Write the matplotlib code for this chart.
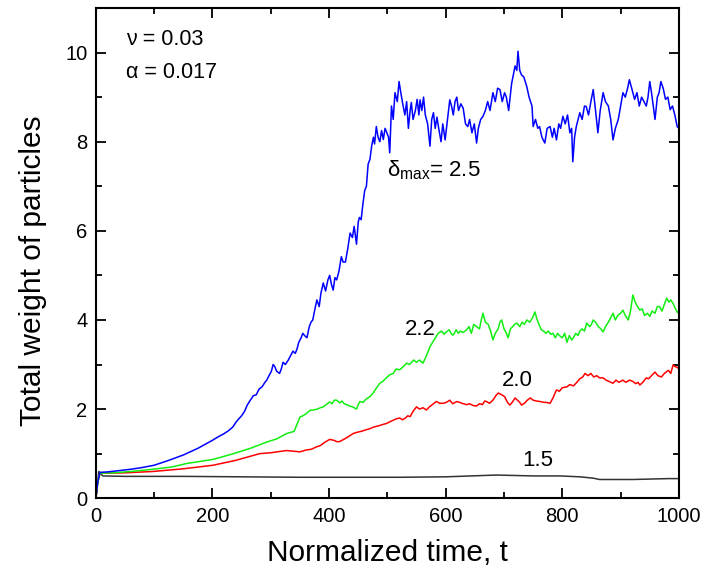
import matplotlib
matplotlib.use('Agg')
import matplotlib.pyplot as plt
from matplotlib.ticker import MultipleLocator

plt.rcParams['font.family'] = ['Liberation Sans', 'DejaVu Sans']
plt.rcParams['mathtext.fontset'] = 'custom'
plt.rcParams['mathtext.rm'] = 'Liberation Sans'
plt.rcParams['mathtext.it'] = 'Liberation Sans'

# delta_max = 2.5 (blue)
t_25 = [0, 3, 7, 20, 40, 60, 80, 100, 125, 150, 175,
        200, 210, 220, 228, 235, 240, 245, 250, 255, 260, 265, 270, 275,
        280, 285, 290, 293, 297, 301, 304, 307, 310, 315, 318, 321, 325,
        330, 334, 338, 342, 345, 348, 352, 355, 358, 362, 366, 369, 372,
        375, 379, 383, 386, 390, 394, 398, 401, 404, 407, 410, 413, 417,
        421, 424, 428, 432, 436, 440, 443, 447, 450, 452, 455, 458, 461,
        464, 467, 470, 473, 476, 478, 481, 484, 487, 490, 493, 496, 499,
        502, 504, 507, 510, 513, 517, 520, 523, 527, 530, 533, 536, 539,
        541, 544, 548, 551, 554, 556, 559, 562, 565, 569, 573, 576, 579,
        582, 585, 588, 592, 595, 599, 603, 607, 610, 613, 616, 619, 622,
        626, 630, 634, 638, 641, 645, 649, 653, 656, 660, 664, 668, 672,
        676, 681, 685, 689, 693, 697, 701, 704, 708, 713, 716, 719, 722,
        724, 727, 730, 734, 739, 743, 748, 750, 754, 758, 761, 765, 770,
        774, 779, 783, 786, 790, 794, 797, 801, 805, 809, 813, 816, 818,
        821, 824, 827, 830, 834, 838, 841, 845, 849, 853, 857, 861, 865,
        870, 874, 879, 883, 887, 891, 896, 900, 904, 908, 912, 915, 919,
        924, 928, 932, 936, 940, 944, 947, 950, 953, 956, 959, 963, 966,
        969, 973, 977, 981, 985, 989, 993, 997, 1000]
w_25 = [0, 0.35, 0.58, 0.59, 0.62, 0.65, 0.69, 0.74, 0.85, 0.97, 1.12,
        1.30, 1.38, 1.45, 1.52, 1.6, 1.7, 1.78, 1.85, 1.95, 2.1, 2.2, 2.3,
        2.32, 2.45, 2.5, 2.6, 2.65, 2.75, 2.85, 3.0, 2.95, 2.85, 2.8, 2.9,
        3.05, 3.0, 3.1, 3.2, 3.3, 3.25, 3.35, 3.5, 3.6, 3.7, 3.65, 3.6,
        3.85, 3.95, 4.0, 4.2, 4.45, 4.3, 4.6, 4.83, 4.65, 4.9, 5.0, 4.8,
        4.67, 4.95, 4.9, 5.1, 5.42, 5.3, 5.3, 5.6, 5.95, 5.85, 6.1, 5.7,
        6.2, 6.3, 6.25, 6.6, 6.9, 7.0, 7.5, 7.6, 7.9, 8.1, 7.95, 8.34, 8.1,
        8.0, 8.25, 8.05, 8.3, 8.2, 8.1, 7.75, 8.8, 8.5, 9.1, 8.9, 9.35,
        9.1, 8.8, 8.6, 8.9, 8.3, 8.7, 8.88, 8.5, 8.7, 8.95, 8.6, 8.94, 8.7,
        9.0, 8.6, 8.4, 7.9, 8.5, 8.65, 8.3, 8.55, 8.3, 8.0, 8.4, 8.04, 8.5,
        8.94, 8.8, 8.6, 8.9, 9.0, 8.7, 8.85, 8.75, 8.4, 8.34, 8.5, 8.2,
        8.4, 7.97, 8.3, 8.5, 8.57, 8.7, 8.9, 8.7, 9.1, 8.9, 9.2, 9.17, 8.9,
        9.1, 9.0, 8.7, 9.3, 9.5, 9.7, 9.6, 10.03, 9.6, 9.5, 9.45, 9.24,
        9.0, 8.8, 8.34, 8.5, 8.3, 8.34, 8.1, 7.97, 8.3, 8.34, 8.1, 8.3,
        8.04, 8.4, 8.3, 8.57, 8.4, 8.6, 8.2, 8.3, 7.55, 8.1, 8.34, 8.5,
        8.65, 8.5, 8.8, 8.79, 8.6, 8.9, 9.17, 8.7, 8.2, 8.7, 9.1, 8.9,
        8.8, 8.5, 8.04, 8.3, 8.5, 8.8, 9.1, 9.0, 9.2, 9.39, 9.2, 8.95,
        9.1, 8.8, 9.0, 8.9, 8.8, 9.0, 9.35, 9.1, 8.8, 8.5, 9.0, 9.1, 9.35,
        9.2, 8.95, 9.0, 8.72, 8.8, 8.6, 8.34, 8.3]

# delta_max = 2.2 (green)
t_22 = [0, 3, 7, 30, 60, 98, 130, 156, 201, 236, 265, 293, 310, 327, 340,
        350, 355, 361, 367, 373, 380, 385, 390, 395, 401, 405, 409, 413,
        418, 422, 426, 430, 435, 440, 444, 447, 450, 453, 458, 463, 470,
        475, 480, 487, 492, 498, 504, 510, 515, 521, 527, 533, 538, 545,
        550, 555, 561, 567, 573, 580, 587, 593, 597, 601, 606, 610, 613,
        618, 622, 625, 630, 636, 640, 644, 648, 653, 658, 661, 664, 668,
        673, 677, 681, 685, 690, 693, 696, 700, 704, 707, 711, 715, 718,
        722, 727, 731, 735, 739, 744, 749, 753, 757, 760, 764, 768, 772,
        776, 780, 784, 788, 792, 795, 800, 804, 808, 812, 816, 819, 823,
        827, 830, 834, 838, 842, 847, 850, 853, 857, 862, 866, 870, 874,
        879, 883, 887, 891, 895, 900, 904, 908, 913, 917, 921, 925, 929,
        933, 937, 941, 946, 950, 954, 959, 963, 967, 971, 975, 979, 983,
        986, 990, 994, 997, 1000]
w_22 = [0, 0.35, 0.56, 0.57, 0.6, 0.65, 0.7, 0.78, 0.87, 1.0, 1.12, 1.26,
        1.33, 1.45, 1.5, 1.82, 1.85, 1.9, 1.97, 1.98, 2.0, 2.03, 2.05,
        2.1, 2.16, 2.12, 2.2, 2.2, 2.14, 2.18, 2.12, 2.1, 2.07, 2.05, 2.02,
        2.0, 2.1, 2.17, 2.15, 2.22, 2.28, 2.35, 2.45, 2.58, 2.62, 2.7,
        2.77, 2.8, 2.9, 2.88, 2.95, 3.03, 3.0, 3.1, 3.05, 3.1, 3.03, 3.2,
        3.4, 3.55, 3.7, 3.75, 3.68, 3.73, 3.78, 3.68, 3.66, 3.78, 3.7,
        3.75, 3.72, 3.78, 3.85, 3.7, 3.9, 3.85, 3.8, 4.0, 4.15, 3.95, 3.9,
        3.75, 3.55, 3.7, 3.8, 3.95, 4.0, 3.8, 3.7, 3.6, 3.8, 3.85, 3.9,
        3.93, 3.85, 3.95, 3.9, 4.0, 3.95, 4.05, 4.18, 4.0, 3.9, 3.78,
        3.75, 3.7, 3.75, 3.68, 3.7, 3.6, 3.7, 3.65, 3.6, 3.7, 3.5, 3.65,
        3.55, 3.6, 3.7, 3.65, 3.75, 3.8, 3.75, 3.93, 3.85, 3.9, 4.0, 3.95,
        3.85, 3.8, 3.73, 3.85, 3.95, 4.05, 4.15, 4.0, 4.1, 4.15, 4.22, 4.1,
        4.0, 4.2, 4.56, 4.4, 4.3, 4.22, 4.25, 4.1, 4.15, 4.08, 4.2, 4.15,
        4.3, 4.3, 4.2, 4.35, 4.49, 4.4, 4.45, 4.37, 4.25, 4.18, 4.15]

# delta_max = 2.0 (red)
t_20 = [0, 3, 7, 50, 98, 150, 201, 240, 281, 300, 327, 350, 360, 370, 378,
        385, 392, 401, 408, 413, 418, 425, 433, 441, 448, 455, 462, 470,
        477, 484, 491, 499, 505, 510, 515, 521, 526, 531, 535, 539, 544,
        550, 555, 561, 567, 572, 577, 584, 590, 596, 601, 607, 612, 619,
        624, 630, 636, 641, 647, 653, 658, 663, 667, 670, 675, 681, 686,
        690, 695, 701, 706, 710, 714, 719, 723, 727, 730, 735, 740, 745,
        750, 756, 762, 768, 773, 779, 784, 790, 795, 800, 808, 813, 819,
        825, 830, 835, 839, 844, 849, 854, 859, 864, 870, 875, 880, 887,
        892, 897, 904, 909, 915, 921, 926, 930, 933, 938, 944, 948, 953,
        959, 964, 970, 975, 982, 986, 990, 994, 997, 1000]
w_20 = [0, 0.35, 0.56, 0.57, 0.6, 0.66, 0.74, 0.85, 1.0, 1.02, 1.07, 1.04,
        1.08, 1.1, 1.15, 1.18, 1.25, 1.32, 1.3, 1.27, 1.27, 1.32, 1.38,
        1.45, 1.48, 1.5, 1.53, 1.56, 1.6, 1.62, 1.65, 1.68, 1.72, 1.75,
        1.78, 1.8, 1.76, 1.8, 1.85, 1.83, 1.95, 2.05, 2.0, 2.03, 1.98,
        2.05, 2.1, 2.17, 2.13, 2.13, 2.15, 2.2, 2.12, 2.17, 2.15, 2.12,
        2.1, 2.12, 2.08, 2.07, 2.12, 2.1, 2.18, 2.17, 2.13, 2.2, 2.3, 2.36,
        2.33, 2.28, 2.15, 2.09, 2.15, 2.25, 2.2, 2.15, 2.09, 2.13, 2.2,
        2.25, 2.2, 2.18, 2.17, 2.15, 2.15, 2.13, 2.25, 2.43, 2.4, 2.48,
        2.5, 2.55, 2.52, 2.6, 2.68, 2.72, 2.8, 2.75, 2.8, 2.72, 2.75, 2.7,
        2.7, 2.65, 2.62, 2.58, 2.65, 2.6, 2.65, 2.6, 2.65, 2.62, 2.57, 2.6,
        2.54, 2.6, 2.7, 2.68, 2.75, 2.83, 2.75, 2.72, 2.8, 2.87, 2.8, 2.99,
        2.95, 2.94, 2.9]

# delta_max = 1.5 (black)
t_15 = [0, 2, 5, 8, 12, 50, 150, 250, 350, 418, 521, 600, 687, 750, 796,
        830, 853, 864, 921, 982, 1000]
w_15 = [0, 0.2, 0.6, 0.55, 0.5, 0.49, 0.49, 0.48, 0.47, 0.47, 0.47, 0.48,
        0.52, 0.5, 0.5, 0.48, 0.45, 0.42, 0.42, 0.44, 0.44]

fig = plt.figure(figsize=(7.05, 5.72), dpi=100)
ax = fig.add_axes([0.136, 0.129, 0.827, 0.857])

ax.plot(t_15, w_15, color='#333333', lw=1.1)
ax.plot(t_20, w_20, color='#ff0000', lw=1.1)
ax.plot(t_22, w_22, color='#11ee11', lw=1.1)
ax.plot(t_25, w_25, color='#0000ff', lw=1.1)

ax.set_xlim(0, 1000)
ax.set_ylim(0, 11)
ax.xaxis.set_major_locator(MultipleLocator(200))
ax.xaxis.set_minor_locator(MultipleLocator(100))
ax.yaxis.set_major_locator(MultipleLocator(2))
ax.yaxis.set_minor_locator(MultipleLocator(1))
ax.tick_params(which='both', direction='in', top=True, right=True,
               labelsize=14.5, width=1.3)
ax.tick_params(which='major', length=7, pad=6)
ax.tick_params(which='minor', length=4)
for s in ax.spines.values():
    s.set_linewidth(1.5)

ax.set_xlabel('Normalized time, t', fontsize=21.5, labelpad=10)
ax.set_ylabel('Total weight of particles', fontsize=21.5)
ax.yaxis.set_label_coords(-0.084, 0.465)

# parameter labels
ax.text(52, 10.3, '\u03bd = 0.03', fontsize=15.5, va='center')
ax.text(52, 9.55, '\u03b1 = 0.017', fontsize=15.5, va='center')
ax.text(500, 7.37, r'$\delta_{\mathrm{max}}$= 2.5', fontsize=16, va='center')
ax.text(556, 3.78, '2.2', fontsize=16, ha='center', va='center')
ax.text(722, 2.65, '2.0', fontsize=16, ha='center', va='center')
ax.text(758, 0.85, '1.5', fontsize=16, ha='center', va='center')

fig.savefig('out.png', dpi=100)
